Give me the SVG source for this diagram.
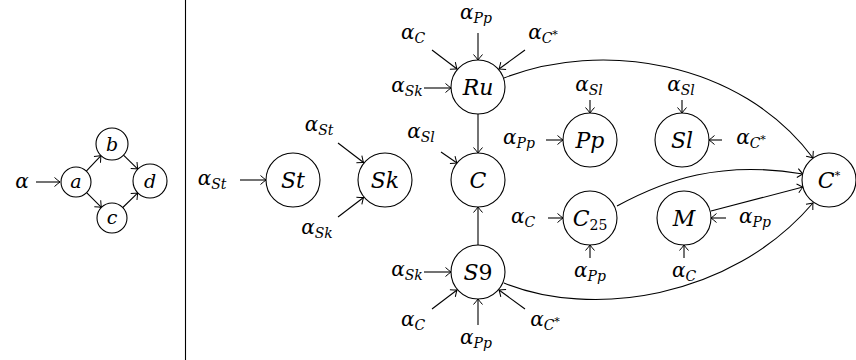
<svg xmlns="http://www.w3.org/2000/svg" width="856" height="360" viewBox="0 0 856 360">
<style>
text{font-family:'DejaVu Serif',serif;font-style:italic;fill:#000}
.n{fill:#fff;stroke:#000;stroke-width:1.1}
.m{font-size:22px}
.ms{font-size:19px}
.l{font-size:20px}
.sb{font-size:14px}
.sp{font-size:11px;font-style:normal}
.up{font-style:normal}
.e{fill:none;stroke:#000;stroke-width:1.1;marker-end:url(#ah)}
</style>
<defs>
<marker id="ah" viewBox="-7 -6 9 12" markerWidth="9" markerHeight="12" refX="0" refY="0" orient="auto" markerUnits="userSpaceOnUse">
<path d="M-5.5,-4.5 Q-1.5,-1 0,0 Q-1.5,1 -5.5,4.5" fill="none" stroke="#000" stroke-width="1"/>
</marker>
</defs>
<rect width="856" height="360" fill="#fff"/>
<line x1="185.5" y1="0" x2="185.5" y2="360" stroke="#000" stroke-width="1.1"/>

<g id="connectors">
<path class="e" d="M36,182 H60"/>
<path class="e" d="M86.3,171.1 L101,155.6"/>
<path class="e" d="M123.5,155.2 L137.8,169.1"/>
<path class="e" d="M86.6,192.6 L101.4,207.4"/>
<path class="e" d="M122.8,207.5 L137.8,192.9"/>

<path class="e" d="M240,180 H266"/>
<path class="e" d="M338,143 L363.5,162.5"/>
<path class="e" d="M338,217 L363.5,197.5"/>

<path class="e" d="M432,50 L457,69"/>
<path class="e" d="M478,33 V60"/>
<path class="e" d="M525,50 L499,69"/>
<path class="e" d="M424,88 H451"/>
<path class="e" d="M478,114 V153"/>
<path class="e" d="M441,152 L457,163"/>
<path class="e" d="M478,245 V207"/>
<path class="e" d="M424,272 H451"/>
<path class="e" d="M432,309 L457,290"/>
<path class="e" d="M478,325 V299"/>
<path class="e" d="M525,309 L499,290"/>

<path class="e" d="M590,100 V113"/>
<path class="e" d="M546,140 H563"/>
<path class="e" d="M682,100 V113"/>
<path class="e" d="M722,140 H709"/>
<path class="e" d="M548,218 H563"/>
<path class="e" d="M590,258 V245"/>
<path class="e" d="M684,258 V245"/>
<path class="e" d="M726,218 H711"/>

<path class="e" d="M711,211 L803,187"/>
<path class="e" d="M617,206 C665,180 720,160 803,174"/>
<path class="e" d="M504,78 C600,40 740,60 813,158"/>
<path class="e" d="M504,283 C590,318 730,300 813,203"/>
</g>

<g id="alpha-in"><text class="l" x="22" y="188" text-anchor="middle">α</text></g>
<g id="a"><circle class="n" cx="76" cy="182" r="15"/><text class="ms" x="76" y="188" text-anchor="middle">a</text></g>
<g id="b"><circle class="n" cx="112" cy="144" r="16"/><text class="ms" x="112" y="151" text-anchor="middle">b</text></g>
<g id="c"><circle class="n" cx="112" cy="218" r="15"/><text class="ms" x="112" y="224" text-anchor="middle">c</text></g>
<g id="d"><circle class="n" cx="150" cy="181" r="17"/><text class="ms" x="150" y="188" text-anchor="middle">d</text></g>

<g id="St"><circle class="n" cx="293" cy="180" r="27"/><text class="m" x="293" y="188" text-anchor="middle">St</text></g>
<g id="Sk"><circle class="n" cx="385" cy="180" r="27"/><text class="m" x="385" y="188" text-anchor="middle">Sk</text></g>
<g id="Ru"><circle class="n" cx="478" cy="87" r="27"/><text class="m" x="478" y="95" text-anchor="middle">Ru</text></g>
<g id="C"><circle class="n" cx="478" cy="180" r="27"/><text class="m" x="478" y="188" text-anchor="middle">C</text></g>
<g id="S9"><circle class="n" cx="478" cy="272" r="27"/><text class="m" x="478" y="280" text-anchor="middle">S<tspan class="up">9</tspan></text></g>
<g id="Pp"><circle class="n" cx="590" cy="140" r="27"/><text class="m" x="590" y="148" text-anchor="middle">Pp</text></g>
<g id="Sl"><circle class="n" cx="682" cy="140" r="27"/><text class="m" x="682" y="148" text-anchor="middle">Sl</text></g>
<g id="C25"><circle class="n" cx="590" cy="218" r="27"/><text class="m" x="590" y="226" text-anchor="middle">C<tspan class="sb up" dy="4">25</tspan></text></g>
<g id="M"><circle class="n" cx="684" cy="218" r="27"/><text class="m" x="684" y="226" text-anchor="middle">M</text></g>
<g id="Cstar"><circle class="n" cx="829" cy="180" r="27"/><text class="m" x="829" y="188" text-anchor="middle">C<tspan class="sp" font-size="15" dy="-9">*</tspan></text></g>

<g id="labels">
<text class="l" x="212" y="185" text-anchor="middle">α<tspan class="sb" dy="4">St</tspan></text>
<text class="l" x="319" y="131" text-anchor="middle">α<tspan class="sb" dy="4">St</tspan></text>
<text class="l" x="317" y="234" text-anchor="middle">α<tspan class="sb" dy="4">Sk</tspan></text>
<text class="l" x="413" y="39" text-anchor="middle">α<tspan class="sb" dy="4">C</tspan></text>
<text class="l" x="476" y="19" text-anchor="middle">α<tspan class="sb" dy="4">Pp</tspan></text>
<text class="l" x="543" y="39" text-anchor="middle">α<tspan class="sb" dy="4">C</tspan><tspan class="sp" dy="-5">*</tspan></text>
<text class="l" x="407" y="92" text-anchor="middle">α<tspan class="sb" dy="4">Sk</tspan></text>
<text class="l" x="421" y="138" text-anchor="middle">α<tspan class="sb" dy="4">Sl</tspan></text>
<text class="l" x="407" y="276" text-anchor="middle">α<tspan class="sb" dy="4">Sk</tspan></text>
<text class="l" x="413" y="326" text-anchor="middle">α<tspan class="sb" dy="4">C</tspan></text>
<text class="l" x="476" y="344" text-anchor="middle">α<tspan class="sb" dy="4">Pp</tspan></text>
<text class="l" x="545" y="326" text-anchor="middle">α<tspan class="sb" dy="4">C</tspan><tspan class="sp" dy="-5">*</tspan></text>
<text class="l" x="519" y="144" text-anchor="middle">α<tspan class="sb" dy="4">Pp</tspan></text>
<text class="l" x="589" y="91" text-anchor="middle">α<tspan class="sb" dy="4">Sl</tspan></text>
<text class="l" x="681" y="91" text-anchor="middle">α<tspan class="sb" dy="4">Sl</tspan></text>
<text class="l" x="751" y="144" text-anchor="middle">α<tspan class="sb" dy="4">C</tspan><tspan class="sp" dy="-5">*</tspan></text>
<text class="l" x="523" y="223" text-anchor="middle">α<tspan class="sb" dy="4">C</tspan></text>
<text class="l" x="590" y="277" text-anchor="middle">α<tspan class="sb" dy="4">Pp</tspan></text>
<text class="l" x="684" y="277" text-anchor="middle">α<tspan class="sb" dy="4">C</tspan></text>
<text class="l" x="755" y="223" text-anchor="middle">α<tspan class="sb" dy="4">Pp</tspan></text>
</g>
</svg>
